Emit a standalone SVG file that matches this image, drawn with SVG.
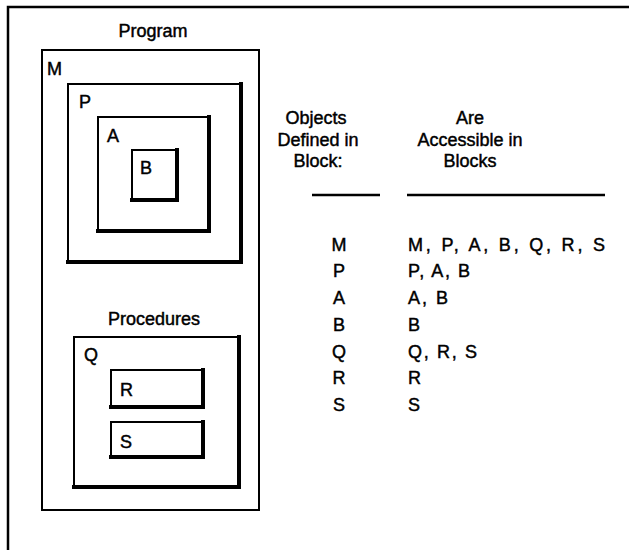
<svg xmlns="http://www.w3.org/2000/svg" width="629" height="550" viewBox="0 0 629 550">
  <style>
    .frame { fill: none; stroke: #000; stroke-width: 2.5; }
    .box { fill: none; stroke: #000; stroke-width: 2; }
    .shade { fill: none; stroke: #000; stroke-width: 4; stroke-linecap: square; }
    text { font-family: "Liberation Sans", Arial, sans-serif; font-size: 18px; fill: #000; stroke: #000; stroke-width: 0.45; }
    .mid { text-anchor: middle; }
    .rule { stroke: #000; stroke-width: 2.5; }
  </style>
  <rect width="629" height="550" fill="#fff"/>

  <!-- outer frame: top and left edges -->
  <path class="frame" d="M629,7 H8 V550"/>

  <g id="program">
    <text class="mid" x="153" y="37">Program</text>
  </g>

  <g id="block-M">
    <rect class="box" x="42" y="50" width="217" height="460"/>
    <text x="47" y="75">M</text>
  </g>

  <g id="block-P">
    <rect class="box" x="68" y="84" width="173" height="178"/>
    <path class="shade" d="M241,84 V262 H68"/>
    <text x="79" y="108">P</text>
  </g>

  <g id="block-A">
    <rect class="box" x="98" y="117" width="111" height="114"/>
    <path class="shade" d="M209,117 V231 H98"/>
    <text x="107" y="142">A</text>
  </g>

  <g id="block-B">
    <rect class="box" x="132" y="150" width="45" height="50"/>
    <path class="shade" d="M177,150 V200 H132"/>
    <text x="140" y="174">B</text>
  </g>

  <g id="procedures">
    <text class="mid" x="154" y="325">Procedures</text>
  </g>

  <g id="block-Q">
    <rect class="box" x="74" y="337" width="165" height="150"/>
    <path class="shade" d="M239,337 V487 H74"/>
    <text x="84" y="361">Q</text>
  </g>

  <g id="block-R">
    <rect class="box" x="111" y="370" width="92" height="37"/>
    <path class="shade" d="M203,370 V407 H111"/>
    <text x="120" y="396">R</text>
  </g>

  <g id="block-S">
    <rect class="box" x="111" y="422" width="92" height="35"/>
    <path class="shade" d="M203,422 V457 H111"/>
    <text x="120" y="448">S</text>
  </g>

  <!-- scope table -->
  <g id="table">
    <text class="mid" x="316" y="124">Objects</text>
    <text class="mid" x="318" y="146">Defined in</text>
    <text class="mid" x="318" y="167">Block:</text>
    <text class="mid" x="470" y="124">Are</text>
    <text class="mid" x="470" y="146">Accessible in</text>
    <text class="mid" x="470" y="167">Blocks</text>
    <line class="rule" x1="312" y1="195" x2="380" y2="195"/>
    <line class="rule" x1="407" y1="195" x2="605" y2="195"/>

    <text class="mid" x="339" y="251">M</text>
    <text class="mid" x="339" y="277">P</text>
    <text class="mid" x="339" y="304">A</text>
    <text class="mid" x="339" y="331">B</text>
    <text class="mid" x="339" y="358">Q</text>
    <text class="mid" x="339" y="384">R</text>
    <text class="mid" x="339" y="411">S</text>

    <text x="408" y="251" textLength="197" lengthAdjust="spacing">M, P, A, B, Q, R, S</text>
    <text x="408" y="277" textLength="62" lengthAdjust="spacing">P, A, B</text>
    <text x="408" y="304" textLength="40" lengthAdjust="spacing">A, B</text>
    <text x="408" y="331">B</text>
    <text x="408" y="358" textLength="69" lengthAdjust="spacing">Q, R, S</text>
    <text x="408" y="384">R</text>
    <text x="408" y="411">S</text>
  </g>
</svg>
